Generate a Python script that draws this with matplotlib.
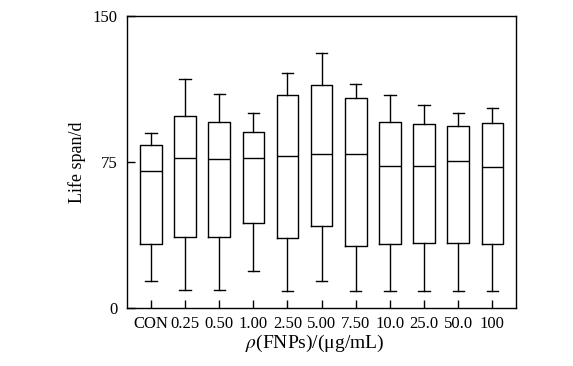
import matplotlib
matplotlib.use("Agg")
import matplotlib.pyplot as plt

categories = ["CON", "0.25", "0.50", "1.00", "2.50", "5.00", "7.50", "10.0", "25.0", "50.0", "100"]
whisker_low = [13.6, 8.9, 8.9, 18.7, 8.4, 13.6, 8.4, 8.4, 8.4, 8.4, 8.4]
q1 = [32.6, 36.5, 36.5, 43.4, 36.0, 41.8, 31.6, 32.6, 33.1, 33.1, 32.6]
median = [70.1, 77.0, 76.3, 77.0, 78.0, 78.9, 78.9, 72.9, 72.9, 75.4, 72.3]
q3 = [83.5, 98.4, 95.3, 90.2, 109.2, 114.3, 107.7, 95.3, 94.3, 93.3, 94.8]
whisker_high = [89.7, 117.4, 109.7, 99.9, 120.7, 130.8, 114.9, 109.2, 104.1, 99.9, 102.5]
y_ticks = [0, 75, 150]

plt.rcParams['font.family'] = ['Liberation Serif', 'DejaVu Serif']
plt.rcParams['mathtext.fontset'] = 'stix'

fig = plt.figure(figsize=(5.73, 3.66), dpi=100)
ax = fig.add_axes([127.3 / 573, 1 - 307.7 / 366, (516.3 - 127.3) / 573, (307.7 - 16) / 366])

stats = []
for i in range(len(categories)):
    stats.append(dict(med=median[i], q1=q1[i], q3=q3[i],
                      whislo=whisker_low[i], whishi=whisker_high[i],
                      fliers=[], label=categories[i]))

lw = 1.0
ax.bxp(stats, positions=range(1, len(categories) + 1), widths=0.63,
       showfliers=False, patch_artist=False,
       boxprops=dict(color='black', linewidth=lw),
       medianprops=dict(color='black', linewidth=lw),
       whiskerprops=dict(color='black', linewidth=lw),
       capprops=dict(color='black', linewidth=lw),
       capwidths=0.33)

ax.set_xlim(0.31, 11.7)
ax.set_ylim(0, 150)
ax.set_yticks(y_ticks)
ax.set_xticks(range(1, len(categories) + 1))
ax.set_xticklabels(categories)
ax.tick_params(axis='both', direction='in', length=5.5, width=1.0, labelsize=12, color='black')
ax.tick_params(axis='y', pad=7)
ax.tick_params(axis='x', pad=6)
for s in ax.spines.values():
    s.set_linewidth(1.0)

ax.set_ylabel("Life span/d", fontsize=13)
ax.yaxis.set_label_coords(-0.106, 0.5)
ax.set_xlabel(r"$\rho$(FNPs)/(μg/mL)", fontsize=14)
ax.xaxis.set_label_coords((315 - 127.3) / 389, -0.088)

fig.savefig("out.png", dpi=100)
